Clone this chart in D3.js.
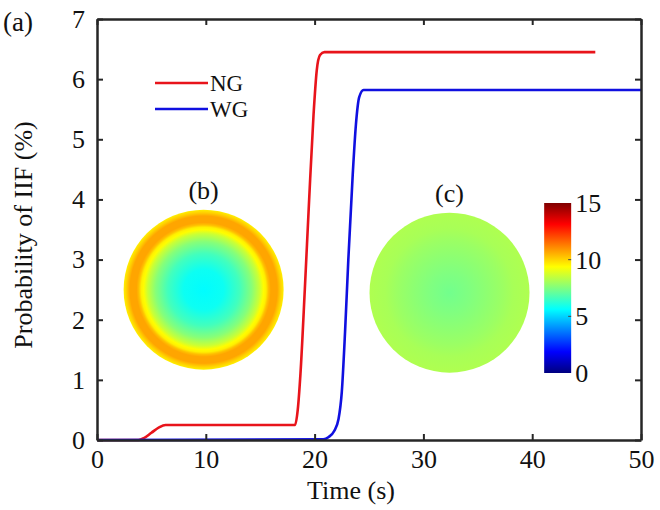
<!DOCTYPE html>
<html>
<head>
<meta charset="utf-8">
<script src="https://cdn.jsdelivr.net/npm/d3@7"></script>
<style>
  body { margin: 0; background: #fff; }
  svg text { font-family: "Liberation Serif", "Times New Roman", serif; fill: #111; }
</style>
</head>
<body>
<svg id="chart" width="660" height="510"></svg>
<script>
'use strict'

// curves: [time (s), probability (%)]
const ngCurve = [[0, 0], [3.8, 0], [4.3, 0.03], [5, 0.12], [5.7, 0.21], [6.3, 0.25], [18.2, 0.25], [18.45, 0.5],
  [18.7, 1.1], [19.1, 2.5], [19.5, 4.0], [19.9, 5.4], [20.2, 6.15], [20.5, 6.4], [20.9, 6.45], [45.8, 6.45]]
const wgCurve = [[0, 0], [20.8, 0.01], [21.3, 0.05], [21.8, 0.15], [22.2, 0.35], [22.5, 0.8], [22.8, 1.8],
  [23.1, 3.0], [23.5, 4.4], [23.8, 5.25], [24.1, 5.7], [24.5, 5.82], [50, 5.82]]
const seriesNames = ['NG', 'WG']
const seriesColors = ['#e8141b', '#1010e0']

const xTicks = [0, 10, 20, 30, 40, 50]
const yTicks = [0, 1, 2, 3, 4, 5, 6, 7]
const cbTicks = [0, 5, 10, 15]

// radial profiles of the two insets: [radius fraction, value]
const profileB = [[0, 5.6], [0.25, 5.8], [0.45, 6.6], [0.6, 7.6], [0.7, 8.6], [0.75, 9.4], [0.78, 9.6],
  [0.81, 10.3], [0.84, 10.7], [0.92, 10.7], [0.96, 10.1], [1, 9.6]]
const profileC = [[0, 7.3], [0.25, 7.5], [0.45, 7.7], [0.65, 7.9], [0.8, 8.1], [1, 8.2]]

// jet colormap anchors
const jetValues = [0, 1.875, 5.625, 9.375, 13.125, 15]
const jetColors = ['#00007f', '#0000ff', '#00ffff', '#ffff00', '#ff0000', '#7f0000']

const margins = {top: 19, right: 19, bottom: 70, left: 97}
const width = 660 - margins.left - margins.right
const height = 510 - margins.top - margins.bottom

const jet = d3.scaleLinear().domain(jetValues).range(jetColors).clamp(true)

const svg = d3.select('#chart')
const defs = svg.append('defs')
const g = svg.append('g').attr('transform', 'translate(' + margins.left + ',' + margins.top + ')')

const x = d3.scaleLinear().domain([0, 50]).range([0, width])
const y = d3.scaleLinear().domain([0, 7]).range([height, 0])

// inset circles (b) and (c)
function radialFill (id, profile) {
  const grad = defs.append('radialGradient').attr('id', id)
  grad.selectAll('stop').data(profile).enter().append('stop')
    .attr('offset', d => d[0])
    .attr('stop-color', d => jet(d[1]))
  return 'url(#' + id + ')'
}
const insets = [
  {label: '(b)', cx: 9.8, cy: 2.5, profile: profileB, id: 'gradB'},
  {label: '(c)', cx: 32.4, cy: 2.45, profile: profileC, id: 'gradC'}
]
const rPx = 80
insets.forEach(ins => {
  g.append('circle')
    .attr('cx', x(ins.cx)).attr('cy', y(ins.cy)).attr('r', rPx)
    .attr('fill', radialFill(ins.id, ins.profile))
  g.append('text')
    .attr('x', x(ins.cx)).attr('y', y(ins.cy) - rPx - 11)
    .attr('text-anchor', 'middle').attr('font-size', 26)
    .text(ins.label)
})

// colorbar
const cb = {x: x(41.1), w: 27, top: 184, bottom: 354}
const cbScale = d3.scaleLinear().domain([0, 15]).range([cb.bottom, cb.top])
const cbGrad = defs.append('linearGradient').attr('id', 'cbGrad')
  .attr('x1', 0).attr('y1', 1).attr('x2', 0).attr('y2', 0)
cbGrad.selectAll('stop').data(jetValues).enter().append('stop')
  .attr('offset', d => d / 15)
  .attr('stop-color', d => jet(d))
g.append('rect')
  .attr('x', cb.x).attr('y', cb.top).attr('width', cb.w).attr('height', cb.bottom - cb.top)
  .attr('fill', 'url(#cbGrad)')
g.selectAll('.cbtick').data(cbTicks.slice(1, -1)).enter().append('line')
  .attr('x1', cb.x + cb.w - 3).attr('x2', cb.x + cb.w)
  .attr('y1', d => cbScale(d)).attr('y2', d => cbScale(d))
  .attr('stroke', '#444').attr('stroke-width', 1)
g.selectAll('.cblabel').data(cbTicks).enter().append('text')
  .attr('x', cb.x + cb.w + 4).attr('y', d => cbScale(d))
  .attr('dy', '0.35em').attr('font-size', 26)
  .text(d => d)

// curves
const line = d3.line().x(d => x(d[0])).y(d => y(d[1])).curve(d3.curveMonotoneX)
const curves = [ngCurve, wgCurve]
g.selectAll('.curve').data(curves).enter().append('path')
  .attr('d', line)
  .attr('fill', 'none')
  .attr('stroke', (d, i) => seriesColors[i])
  .attr('stroke-width', 2.6)

// legend
const legend = g.selectAll('.legend').data(seriesNames).enter().append('g')
  .attr('transform', (d, i) => 'translate(58,' + (64 + i * 26) + ')')
legend.append('line')
  .attr('x1', 0).attr('x2', 53)
  .attr('stroke', (d, i) => seriesColors[i]).attr('stroke-width', 2.6)
legend.append('text')
  .attr('x', 55).attr('dy', '0.35em').attr('font-size', 23)
  .text(d => d)

// axes box with inward ticks
const axisColor = '#262626'
const xAxis = g.append('g').attr('transform', 'translate(0,' + height + ')')
  .call(d3.axisBottom(x).tickValues(xTicks).tickSizeInner(-6).tickSizeOuter(0).tickPadding(10))
const xTop = g.append('g')
  .call(d3.axisTop(x).tickValues(xTicks).tickSizeInner(-6).tickSizeOuter(0).tickFormat(''))
const yAxis = g.append('g')
  .call(d3.axisLeft(y).tickValues(yTicks).tickFormat(d3.format('d')).tickSizeInner(-6).tickSizeOuter(0).tickPadding(12))
const yRight = g.append('g').attr('transform', 'translate(' + width + ',0)')
  .call(d3.axisRight(y).tickValues(yTicks).tickSizeInner(-6).tickSizeOuter(0).tickFormat(''))
;[xAxis, xTop, yAxis, yRight].forEach(a => {
  a.select('.domain').attr('stroke', axisColor).attr('stroke-width', 2.5)
  a.selectAll('.tick line').attr('stroke', axisColor).attr('stroke-width', 2)
  a.selectAll('.tick text').attr('font-size', 26).attr('fill', '#111')
    .style('font-family', '"Liberation Serif", serif')
})

// axis labels
svg.append('text')
  .attr('x', 351).attr('y', 499)
  .attr('text-anchor', 'middle').attr('font-size', 26)
  .text('Time (s)')
svg.append('text')
  .attr('transform', 'translate(32,235) rotate(-90)')
  .attr('text-anchor', 'middle').attr('font-size', 26)
  .text('Probability of IIF (%)')
svg.append('text')
  .attr('x', 3).attr('y', 31).attr('font-size', 27)
  .text('(a)')
</script>
</body>
</html>
